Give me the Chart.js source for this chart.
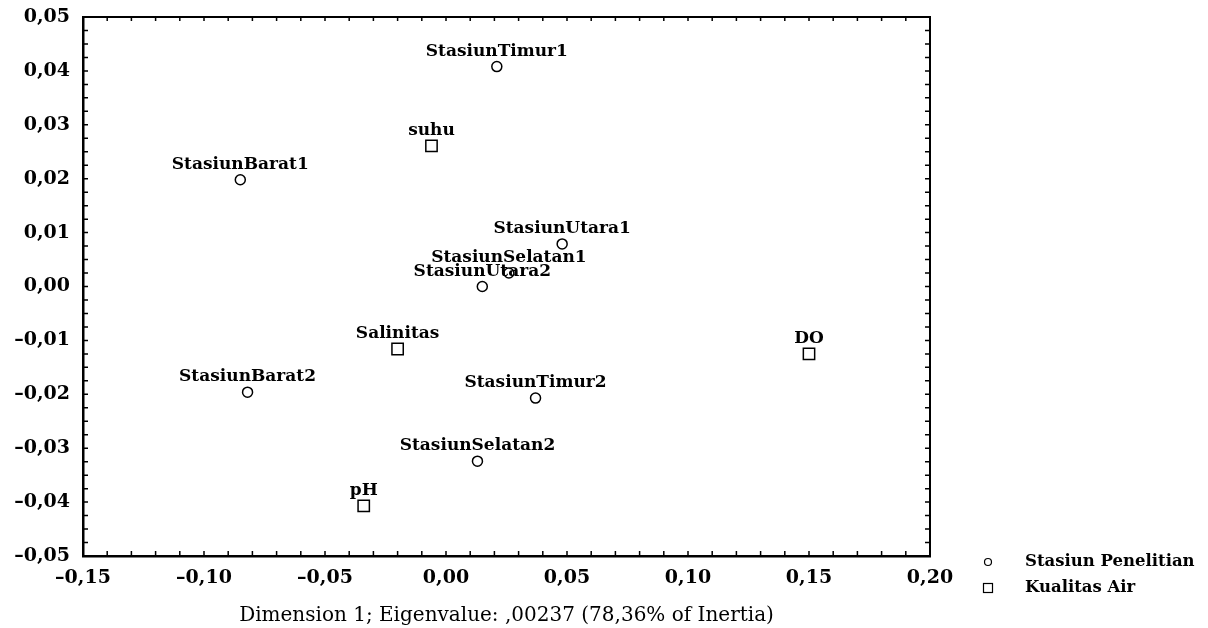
<!DOCTYPE html>
<html>
<head>
<meta charset="utf-8">
<script src="https://cdn.jsdelivr.net/npm/chart.js@4/dist/chart.umd.min.js"></script>
<style>
  html, body { margin: 0; padding: 0; background: #fff; }
</style>
</head>
<body>
<canvas id="chart" width="1208" height="628"></canvas>
<script>
// Stasiun penelitian (lingkaran)
const stationNames = ['StasiunBarat1', 'StasiunBarat2', 'StasiunTimur1', 'StasiunTimur2',
  'StasiunUtara1', 'StasiunUtara2', 'StasiunSelatan1', 'StasiunSelatan2'];
const stationX = [-0.085, -0.082, 0.021, 0.037, 0.048, 0.015, 0.026, 0.013];
const stationY = [0.0198, -0.0196, 0.0408, -0.0207, 0.0079, 0.0000, 0.0025, -0.0324];

// Kualitas air (kotak)
const waterNames = ['suhu', 'Salinitas', 'pH', 'DO'];
const waterX = [-0.006, -0.020, -0.034, 0.150];
const waterY = [0.0261, -0.0116, -0.0407, -0.0125];

const legendNames = ['Stasiun Penelitian', 'Kualitas Air'];
const xTitle = 'Dimension 1; Eigenvalue: ,00237 (78,36% of Inertia)';

const serif = 'DejaVu Serif';

function fmt(v) {
  if (Math.abs(v) < 1e-9) v = 0;
  return v.toFixed(2).replace('.', ',').replace('-', '–');
}

function isMultiple(v, step) {
  const q = v / step;
  return Math.abs(q - Math.round(q)) < 1e-6;
}

// label teks di atas tiap titik
const pointLabels = {
  id: 'pointLabels',
  afterDatasetsDraw(chart) {
    const ctx = chart.ctx;
    ctx.save();
    ctx.fillStyle = '#000';
    ctx.font = 'bold 17px "' + serif + '"';
    ctx.textAlign = 'center';
    ctx.textBaseline = 'alphabetic';
    chart.data.datasets.forEach((ds, i) => {
      chart.getDatasetMeta(i).data.forEach((el, j) => {
        ctx.fillText(ds.names[j], el.x, el.y - 11);
      });
    });
    ctx.restore();
  }
};

// bingkai atas/kanan + tick ke dalam + legenda
const frame = {
  id: 'frame',
  afterDraw(chart) {
    const { ctx, chartArea: a, scales: { x, y } } = chart;
    ctx.save();
    ctx.strokeStyle = '#000';
    ctx.lineWidth = 2;
    ctx.beginPath();
    ctx.moveTo(a.left, a.top);
    ctx.lineTo(a.right, a.top);
    ctx.lineTo(a.right, a.bottom);
    ctx.stroke();

    ctx.lineWidth = 1.5;
    ctx.beginPath();
    x.ticks.forEach(t => {
      const px = x.getPixelForValue(t.value);
      ctx.moveTo(px, a.bottom); ctx.lineTo(px, a.bottom - 5);
      ctx.moveTo(px, a.top); ctx.lineTo(px, a.top + 4);
    });
    y.ticks.forEach(t => {
      const py = y.getPixelForValue(t.value);
      ctx.moveTo(a.left, py); ctx.lineTo(a.left + 5, py);
      ctx.moveTo(a.right, py); ctx.lineTo(a.right - 5, py);
    });
    ctx.stroke();

    // legenda
    const lx = a.right + 58, ly = a.bottom + 6;
    ctx.lineWidth = 1.2;
    ctx.beginPath();
    ctx.arc(lx, ly, 3.5, 0, Math.PI * 2);
    ctx.stroke();
    ctx.strokeRect(lx - 4.5, ly + 26 - 4.5, 9, 9);
    ctx.fillStyle = '#000';
    ctx.font = 'bold 16.5px "' + serif + '"';
    ctx.textAlign = 'left';
    ctx.textBaseline = 'middle';
    ctx.fillText(legendNames[0], lx + 37, ly);
    ctx.fillText(legendNames[1], lx + 37, ly + 26);
    ctx.restore();
  }
};

new Chart(document.getElementById('chart'), {
  type: 'scatter',
  data: {
    datasets: [{
      label: legendNames[0],
      names: stationNames,
      data: stationX.map((v, i) => ({ x: v, y: stationY[i] })),
      pointStyle: 'circle',
      pointRadius: 5,
      borderWidth: 1.5,
      borderColor: '#000',
      backgroundColor: 'rgba(255,255,255,0)'
    }, {
      label: legendNames[1],
      names: waterNames,
      data: waterX.map((v, i) => ({ x: v, y: waterY[i] })),
      pointStyle: 'rect',
      pointRadius: 8,
      borderWidth: 1.5,
      borderColor: '#000',
      backgroundColor: 'rgba(255,255,255,0)'
    }]
  },
  options: {
    responsive: false,
    animation: false,
    layout: { padding: { top: 17, right: 278, left: 0, bottom: 0 } },
    plugins: {
      legend: { display: false },
      tooltip: { enabled: false }
    },
    scales: {
      x: {
        type: 'linear',
        min: -0.15,
        max: 0.20,
        afterFit(scale) { scale.height = 72; },
        grid: { drawOnChartArea: false, drawTicks: false },
        border: { display: true, color: '#000', width: 2.5 },
        ticks: {
          stepSize: 0.01,
          autoSkip: false,
          maxRotation: 0,
          padding: 11,
          color: '#000',
          font: { family: serif, size: 19, weight: 'bold' },
          callback: v => isMultiple(v, 0.05) ? fmt(v) : ''
        },
        title: {
          display: true,
          text: xTitle,
          color: '#000',
          font: { family: serif, size: 20 },
          padding: { top: 0, bottom: 0 }
        }
      },
      y: {
        type: 'linear',
        min: -0.05,
        max: 0.05,
        afterFit(scale) {
          scale.width = 83;
          scale.paddingTop = 0;
          scale.paddingBottom = 0;
        },
        grid: { drawOnChartArea: false, drawTicks: false },
        border: { display: true, color: '#000', width: 2.5 },
        ticks: {
          stepSize: 0.0025,
          autoSkip: false,
          padding: 13,
          color: '#000',
          font: { family: serif, size: 19, weight: 'bold' },
          callback: v => isMultiple(v, 0.01) ? fmt(v) : ''
        }
      }
    }
  },
  plugins: [pointLabels, frame]
});
</script>
</body>
</html>
